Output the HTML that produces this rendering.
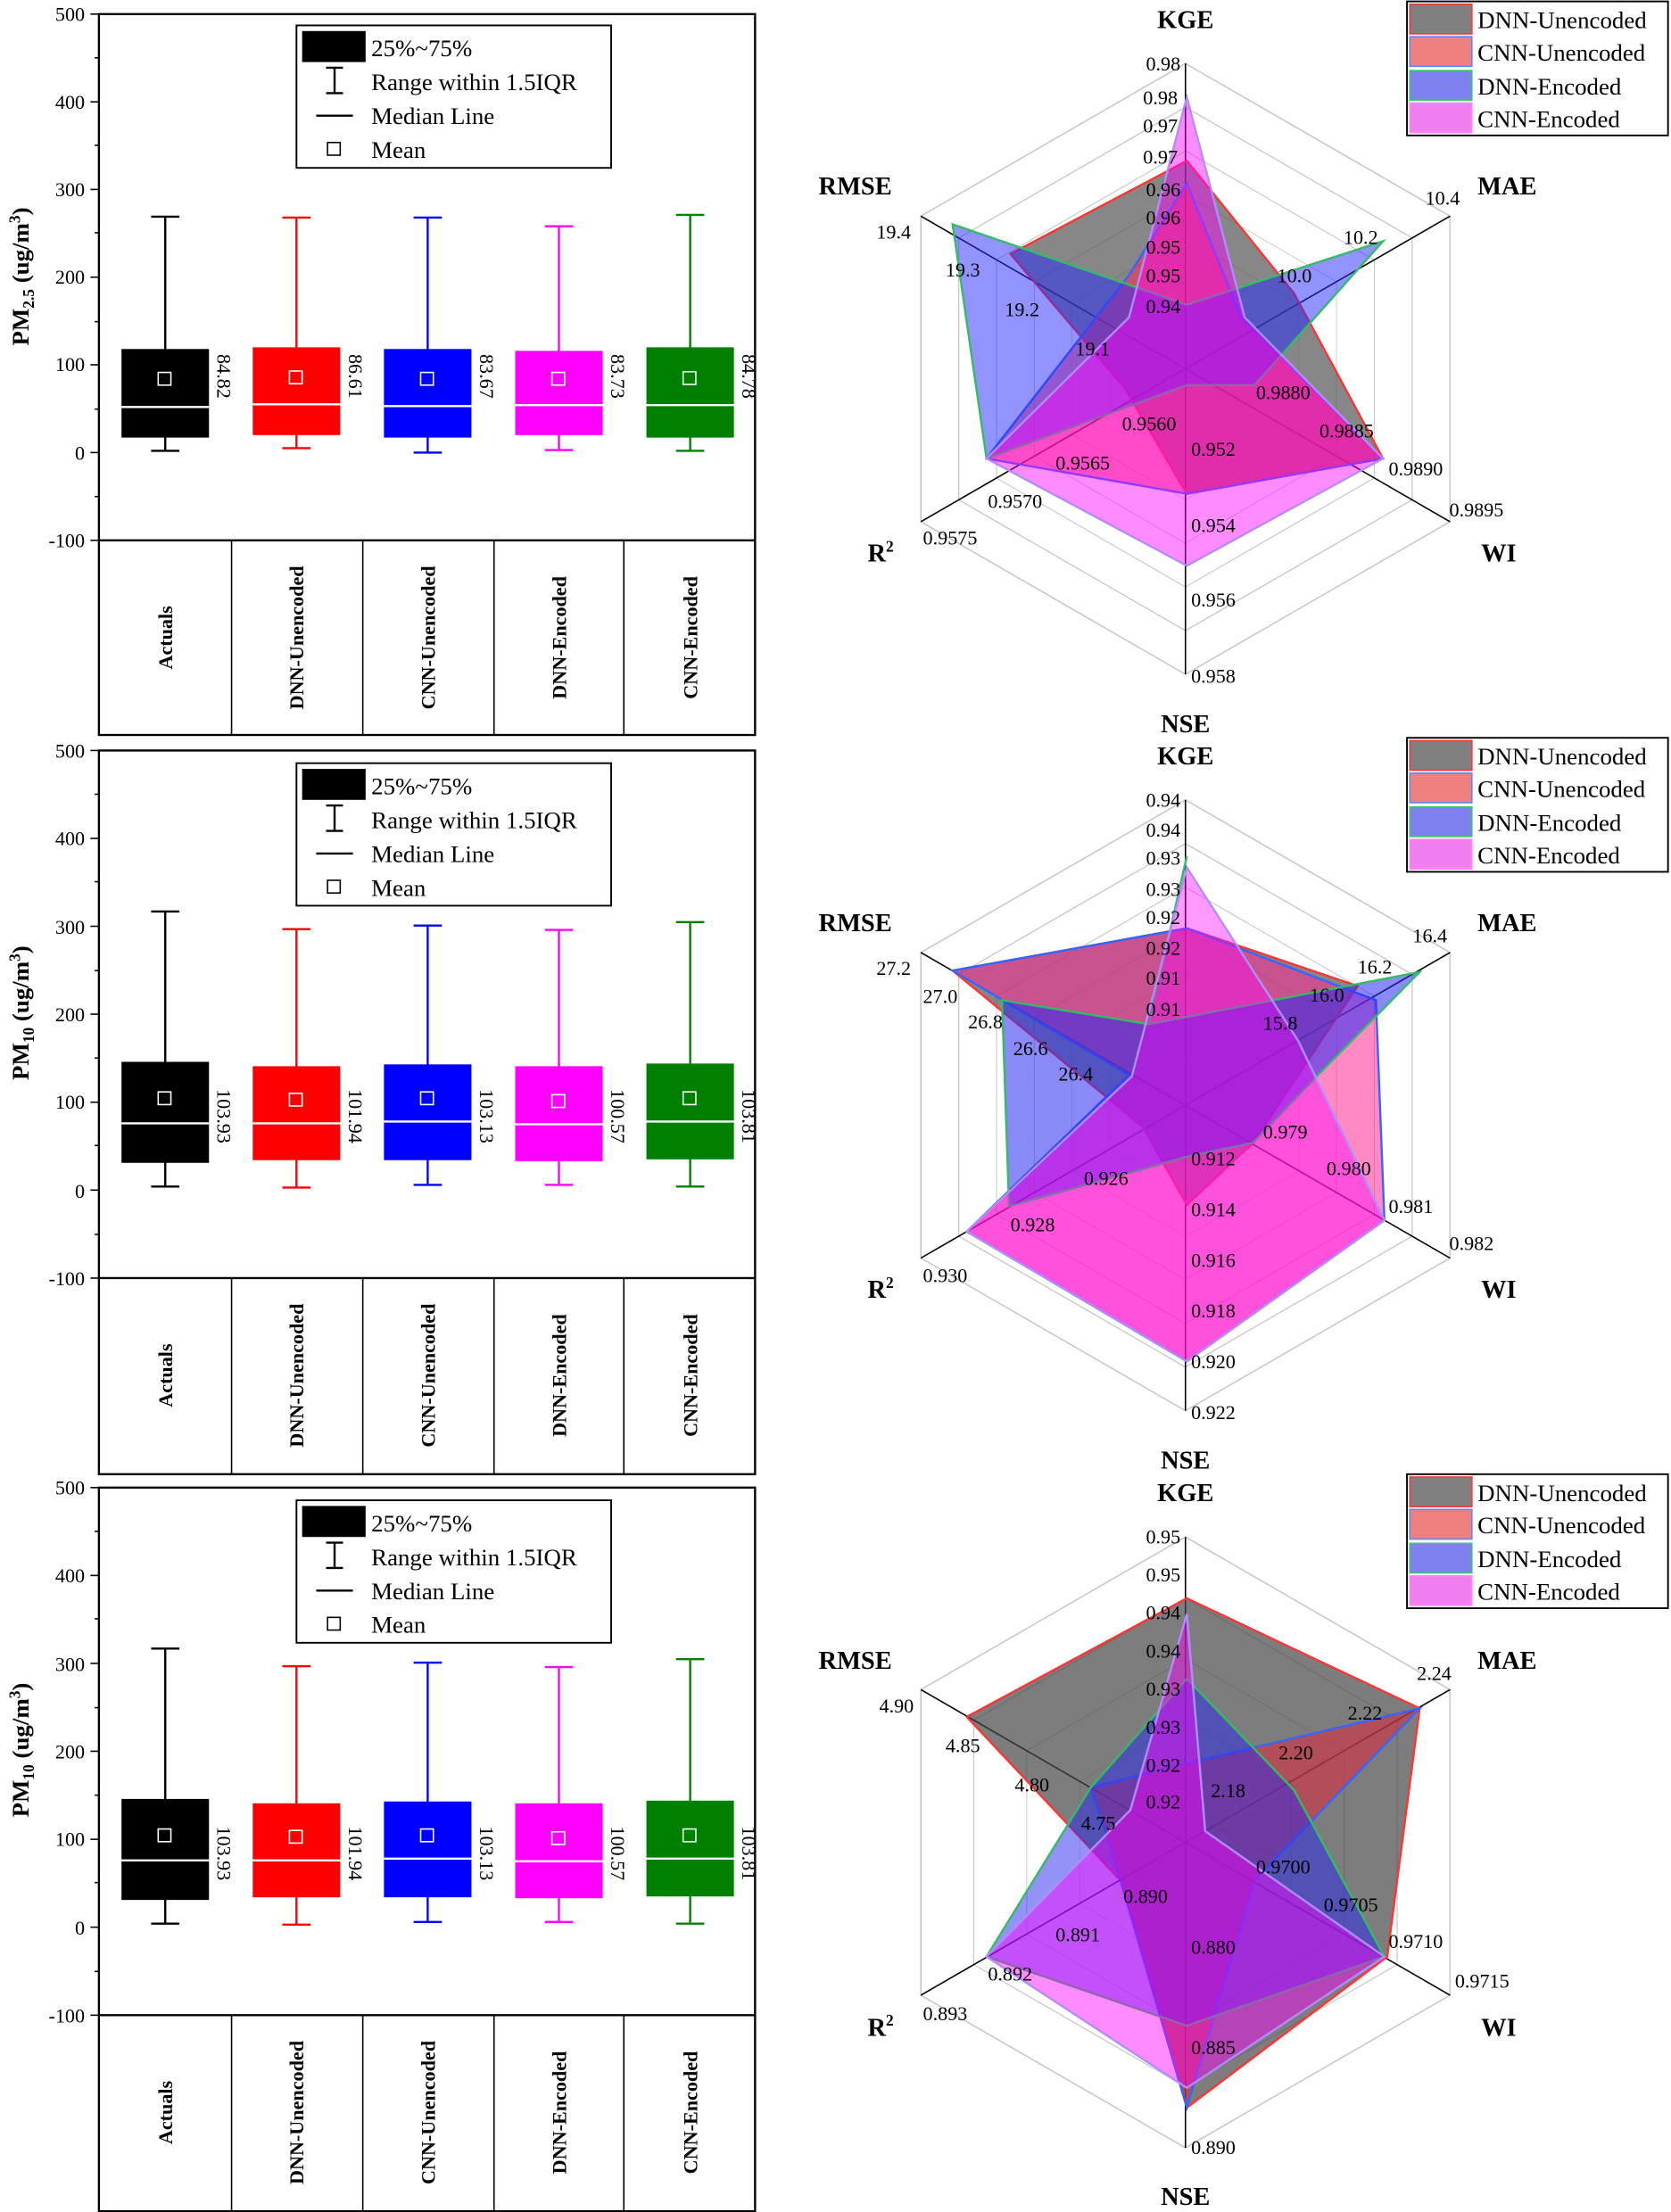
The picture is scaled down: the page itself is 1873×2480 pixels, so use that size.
<!DOCTYPE html>
<html><head><meta charset="utf-8"><style>
html,body{margin:0;padding:0;background:#fff}
svg{display:block}
text{font-family:"Liberation Serif","Times New Roman",serif}
.t{font-size:14px}
.b{font-weight:bold}
.g{fill:none;stroke:#c8c8c8;stroke-width:1;vector-effect:non-scaling-stroke}
</style></head><body>
<svg width="1873" height="2480" viewBox="0 0 1184 1568" xmlns="http://www.w3.org/2000/svg" font-family="Liberation Serif, Times New Roman, serif">
<defs>
<polygon id="hx" points="0,-216.5 187.5,-108.3 187.5,108.3 0,216.5 -187.5,108.3 -187.5,-108.3"/>
</defs>

<!-- ================= PANEL 1 ================= -->
<g>
<rect x="70" y="10" width="465" height="511" fill="none" stroke="#000" stroke-width="1.5"/>
<line x1="70" y1="383" x2="535" y2="383" stroke="#000" stroke-width="1.5"/>
<g stroke="#000" stroke-width="1"><line x1="164" y1="383" x2="164" y2="521"/><line x1="257" y1="383" x2="257" y2="521"/><line x1="350" y1="383" x2="350" y2="521"/><line x1="442" y1="383" x2="442" y2="521"/></g>
<g stroke="#000" stroke-width="1">
<line x1="64" y1="10" x2="70" y2="10"/><line x1="64" y1="72.2" x2="70" y2="72.2"/><line x1="64" y1="134.3" x2="70" y2="134.3"/><line x1="64" y1="196.5" x2="70" y2="196.5"/><line x1="64" y1="258.6" x2="70" y2="258.6"/><line x1="64" y1="320.8" x2="70" y2="320.8"/><line x1="64" y1="383" x2="70" y2="383"/>
<line x1="67" y1="41" x2="70" y2="41"/><line x1="67" y1="103" x2="70" y2="103"/><line x1="67" y1="165" x2="70" y2="165"/><line x1="67" y1="228" x2="70" y2="228"/><line x1="67" y1="290" x2="70" y2="290"/><line x1="67" y1="352" x2="70" y2="352"/>
</g>
<g class="t" text-anchor="end"><text x="60" y="15">500</text><text x="60" y="77">400</text><text x="60" y="139">300</text><text x="60" y="201">200</text><text x="60" y="263">100</text><text x="60" y="326">0</text><text x="60" y="388">-100</text></g>
<text transform="translate(20,196) rotate(-90)" text-anchor="middle" class="b" font-size="17">PM<tspan font-size="11" dy="4">2.5</tspan><tspan dy="-4"> (ug/m</tspan><tspan font-size="11" dy="-6">3</tspan><tspan dy="6">)</tspan></text>
<rect x="210" y="18" width="223" height="101" fill="#fff" stroke="#000" stroke-width="1.2"/>
<rect x="214" y="22" width="45" height="22" fill="#000"/>
<g stroke="#000" stroke-width="1.5"><line x1="237" y1="48" x2="237" y2="66"/><line x1="231" y1="48" x2="243" y2="48"/><line x1="231" y1="66" x2="243" y2="66"/><line x1="224" y1="82" x2="250" y2="82"/></g>
<rect x="232" y="101" width="9" height="9" fill="none" stroke="#000"/>
<g font-size="17"><text x="263" y="40">25%~75%</text><text x="263" y="64">Range within 1.5IQR</text><text x="263" y="88">Median Line</text><text x="263" y="112">Mean</text></g>
<g stroke-width="1.5">
<g stroke="#000"><line x1="117" y1="153.6" x2="117" y2="319.6"/><line x1="107" y1="153.6" x2="127" y2="153.6"/><line x1="107" y1="319.6" x2="127" y2="319.6"/></g>
<rect x="86" y="247.4" width="62" height="62.8" fill="#000"/>
<g stroke="#f00"><line x1="210" y1="154.2" x2="210" y2="317.7"/><line x1="200" y1="154.2" x2="220" y2="154.2"/><line x1="200" y1="317.7" x2="220" y2="317.7"/></g>
<rect x="179" y="246.2" width="62" height="62.2" fill="#f00"/>
<g stroke="#00f"><line x1="303" y1="154.2" x2="303" y2="320.8"/><line x1="293" y1="154.2" x2="313" y2="154.2"/><line x1="293" y1="320.8" x2="313" y2="320.8"/></g>
<rect x="272" y="247.4" width="62" height="62.8" fill="#00f"/>
<g stroke="#f0f"><line x1="396" y1="160.4" x2="396" y2="319"/><line x1="386" y1="160.4" x2="406" y2="160.4"/><line x1="386" y1="319" x2="406" y2="319"/></g>
<rect x="365" y="248.7" width="62" height="59.7" fill="#f0f"/>
<g stroke="#008000"><line x1="489" y1="152.3" x2="489" y2="319.6"/><line x1="479" y1="152.3" x2="499" y2="152.3"/><line x1="479" y1="319.6" x2="499" y2="319.6"/></g>
<rect x="458" y="246.2" width="62" height="64" fill="#008000"/>
<g stroke="#fff"><line x1="86" y1="288.5" x2="148" y2="288.5"/><line x1="179" y1="286.6" x2="241" y2="286.6"/><line x1="272" y1="287.9" x2="334" y2="287.9"/><line x1="365" y1="287.2" x2="427" y2="287.2"/><line x1="458" y1="287.2" x2="520" y2="287.2"/></g>
<g stroke="#fff" fill="none" stroke-width="1"><rect x="112" y="264" width="9" height="9"/><rect x="205" y="263" width="9" height="9"/><rect x="298" y="264" width="9" height="9"/><rect x="391" y="264" width="9" height="9"/><rect x="484" y="263.5" width="9" height="9"/></g>
</g>
<g class="t"><text transform="translate(154,251) rotate(90)">84.82</text><text transform="translate(247,251) rotate(90)">86.61</text><text transform="translate(340,251) rotate(90)">83.67</text><text transform="translate(433,251) rotate(90)">83.73</text><text transform="translate(526,251) rotate(90)">84.78</text></g>
<g class="b" font-size="14" text-anchor="middle">
<text transform="translate(122,452) rotate(-90)">Actuals</text><text transform="translate(215,452) rotate(-90)">DNN-Unencoded</text><text transform="translate(308,452) rotate(-90)">CNN-Unencoded</text><text transform="translate(401,452) rotate(-90)">DNN-Encoded</text><text transform="translate(494,452) rotate(-90)">CNN-Encoded</text></g>
</g>

<!-- ================= PANEL 2 ================= -->
<g>
<rect x="70" y="532" width="465" height="513" fill="none" stroke="#000" stroke-width="1.5"/>
<line x1="70" y1="906" x2="535" y2="906" stroke="#000" stroke-width="1.5"/>
<g stroke="#000" stroke-width="1"><line x1="164" y1="906" x2="164" y2="1045"/><line x1="257" y1="906" x2="257" y2="1045"/><line x1="350" y1="906" x2="350" y2="1045"/><line x1="442" y1="906" x2="442" y2="1045"/></g>
<g stroke="#000" stroke-width="1">
<line x1="64" y1="532" x2="70" y2="532"/><line x1="64" y1="594.3" x2="70" y2="594.3"/><line x1="64" y1="656.6" x2="70" y2="656.6"/><line x1="64" y1="718.9" x2="70" y2="718.9"/><line x1="64" y1="781.3" x2="70" y2="781.3"/><line x1="64" y1="843.6" x2="70" y2="843.6"/><line x1="64" y1="906" x2="70" y2="906"/>
<line x1="67" y1="563" x2="70" y2="563"/><line x1="67" y1="625" x2="70" y2="625"/><line x1="67" y1="688" x2="70" y2="688"/><line x1="67" y1="750" x2="70" y2="750"/><line x1="67" y1="812" x2="70" y2="812"/><line x1="67" y1="875" x2="70" y2="875"/>
</g>
<g class="t" text-anchor="end"><text x="60" y="537">500</text><text x="60" y="599">400</text><text x="60" y="662">300</text><text x="60" y="724">200</text><text x="60" y="786">100</text><text x="60" y="849">0</text><text x="60" y="911">-100</text></g>
<text transform="translate(20,718) rotate(-90)" text-anchor="middle" class="b" font-size="17">PM<tspan font-size="11" dy="4">10</tspan><tspan dy="-4"> (ug/m</tspan><tspan font-size="11" dy="-6">3</tspan><tspan dy="6">)</tspan></text>
<rect x="210" y="541" width="223" height="101" fill="#fff" stroke="#000" stroke-width="1.2"/>
<rect x="214" y="545" width="45" height="22" fill="#000"/>
<g stroke="#000" stroke-width="1.5"><line x1="237" y1="571" x2="237" y2="589"/><line x1="231" y1="571" x2="243" y2="571"/><line x1="231" y1="589" x2="243" y2="589"/><line x1="224" y1="605" x2="250" y2="605"/></g>
<rect x="232" y="624" width="9" height="9" fill="none" stroke="#000"/>
<g font-size="17"><text x="263" y="563">25%~75%</text><text x="263" y="587">Range within 1.5IQR</text><text x="263" y="611">Median Line</text><text x="263" y="635">Mean</text></g>
<g stroke-width="1.5">
<g stroke="#000"><line x1="117" y1="646.1" x2="117" y2="841.1"/><line x1="107" y1="646.1" x2="127" y2="646.1"/><line x1="107" y1="841.1" x2="127" y2="841.1"/></g>
<rect x="86" y="752.7" width="62" height="71.6" fill="#000"/>
<g stroke="#f00"><line x1="210" y1="658.6" x2="210" y2="841.8"/><line x1="200" y1="658.6" x2="220" y2="658.6"/><line x1="200" y1="841.8" x2="220" y2="841.8"/></g>
<rect x="179" y="755.8" width="62" height="66.6" fill="#f00"/>
<g stroke="#00f"><line x1="303" y1="656.1" x2="303" y2="839.9"/><line x1="293" y1="656.1" x2="313" y2="656.1"/><line x1="293" y1="839.9" x2="313" y2="839.9"/></g>
<rect x="272" y="754.5" width="62" height="67.9" fill="#00f"/>
<g stroke="#f0f"><line x1="396" y1="659.2" x2="396" y2="839.9"/><line x1="386" y1="659.2" x2="406" y2="659.2"/><line x1="386" y1="839.9" x2="406" y2="839.9"/></g>
<rect x="365" y="755.8" width="62" height="67.3" fill="#f0f"/>
<g stroke="#008000"><line x1="489" y1="653.6" x2="489" y2="841.1"/><line x1="479" y1="653.6" x2="499" y2="653.6"/><line x1="479" y1="841.1" x2="499" y2="841.1"/></g>
<rect x="458" y="753.9" width="62" height="67.9" fill="#008000"/>
<g stroke="#fff"><line x1="86" y1="796.3" x2="148" y2="796.3"/><line x1="179" y1="796.3" x2="241" y2="796.3"/><line x1="272" y1="795" x2="334" y2="795"/><line x1="365" y1="796.9" x2="427" y2="796.9"/><line x1="458" y1="795" x2="520" y2="795"/></g>
<g stroke="#fff" fill="none" stroke-width="1"><rect x="112" y="774" width="9" height="9"/><rect x="205" y="775" width="9" height="9"/><rect x="298" y="774" width="9" height="9"/><rect x="391" y="776" width="9" height="9"/><rect x="484" y="774" width="9" height="9"/></g>
</g>
<g class="t"><text transform="translate(154,772) rotate(90)">103.93</text><text transform="translate(247,772) rotate(90)">101.94</text><text transform="translate(340,772) rotate(90)">103.13</text><text transform="translate(433,772) rotate(90)">100.57</text><text transform="translate(526,772) rotate(90)">103.81</text></g>
<g class="b" font-size="14" text-anchor="middle">
<text transform="translate(122,975) rotate(-90)">Actuals</text><text transform="translate(215,975) rotate(-90)">DNN-Unencoded</text><text transform="translate(308,975) rotate(-90)">CNN-Unencoded</text><text transform="translate(401,975) rotate(-90)">DNN-Encoded</text><text transform="translate(494,975) rotate(-90)">CNN-Encoded</text></g>
</g>

<!-- ================= PANEL 3 ================= -->
<g transform="translate(0,522.5)">
<rect x="70" y="532" width="465" height="513" fill="none" stroke="#000" stroke-width="1.5"/>
<line x1="70" y1="906" x2="535" y2="906" stroke="#000" stroke-width="1.5"/>
<g stroke="#000" stroke-width="1"><line x1="164" y1="906" x2="164" y2="1045"/><line x1="257" y1="906" x2="257" y2="1045"/><line x1="350" y1="906" x2="350" y2="1045"/><line x1="442" y1="906" x2="442" y2="1045"/></g>
<g stroke="#000" stroke-width="1">
<line x1="64" y1="532" x2="70" y2="532"/><line x1="64" y1="594.3" x2="70" y2="594.3"/><line x1="64" y1="656.6" x2="70" y2="656.6"/><line x1="64" y1="718.9" x2="70" y2="718.9"/><line x1="64" y1="781.3" x2="70" y2="781.3"/><line x1="64" y1="843.6" x2="70" y2="843.6"/><line x1="64" y1="906" x2="70" y2="906"/>
<line x1="67" y1="563" x2="70" y2="563"/><line x1="67" y1="625" x2="70" y2="625"/><line x1="67" y1="688" x2="70" y2="688"/><line x1="67" y1="750" x2="70" y2="750"/><line x1="67" y1="812" x2="70" y2="812"/><line x1="67" y1="875" x2="70" y2="875"/>
</g>
<g class="t" text-anchor="end"><text x="60" y="537">500</text><text x="60" y="599">400</text><text x="60" y="662">300</text><text x="60" y="724">200</text><text x="60" y="786">100</text><text x="60" y="849">0</text><text x="60" y="911">-100</text></g>
<text transform="translate(20,718) rotate(-90)" text-anchor="middle" class="b" font-size="17">PM<tspan font-size="11" dy="4">10</tspan><tspan dy="-4"> (ug/m</tspan><tspan font-size="11" dy="-6">3</tspan><tspan dy="6">)</tspan></text>
<rect x="210" y="541" width="223" height="101" fill="#fff" stroke="#000" stroke-width="1.2"/>
<rect x="214" y="545" width="45" height="22" fill="#000"/>
<g stroke="#000" stroke-width="1.5"><line x1="237" y1="571" x2="237" y2="589"/><line x1="231" y1="571" x2="243" y2="571"/><line x1="231" y1="589" x2="243" y2="589"/><line x1="224" y1="605" x2="250" y2="605"/></g>
<rect x="232" y="624" width="9" height="9" fill="none" stroke="#000"/>
<g font-size="17"><text x="263" y="563">25%~75%</text><text x="263" y="587">Range within 1.5IQR</text><text x="263" y="611">Median Line</text><text x="263" y="635">Mean</text></g>
<g stroke-width="1.5">
<g stroke="#000"><line x1="117" y1="646.1" x2="117" y2="841.1"/><line x1="107" y1="646.1" x2="127" y2="646.1"/><line x1="107" y1="841.1" x2="127" y2="841.1"/></g>
<rect x="86" y="752.7" width="62" height="71.6" fill="#000"/>
<g stroke="#f00"><line x1="210" y1="658.6" x2="210" y2="841.8"/><line x1="200" y1="658.6" x2="220" y2="658.6"/><line x1="200" y1="841.8" x2="220" y2="841.8"/></g>
<rect x="179" y="755.8" width="62" height="66.6" fill="#f00"/>
<g stroke="#00f"><line x1="303" y1="656.1" x2="303" y2="839.9"/><line x1="293" y1="656.1" x2="313" y2="656.1"/><line x1="293" y1="839.9" x2="313" y2="839.9"/></g>
<rect x="272" y="754.5" width="62" height="67.9" fill="#00f"/>
<g stroke="#f0f"><line x1="396" y1="659.2" x2="396" y2="839.9"/><line x1="386" y1="659.2" x2="406" y2="659.2"/><line x1="386" y1="839.9" x2="406" y2="839.9"/></g>
<rect x="365" y="755.8" width="62" height="67.3" fill="#f0f"/>
<g stroke="#008000"><line x1="489" y1="653.6" x2="489" y2="841.1"/><line x1="479" y1="653.6" x2="499" y2="653.6"/><line x1="479" y1="841.1" x2="499" y2="841.1"/></g>
<rect x="458" y="753.9" width="62" height="67.9" fill="#008000"/>
<g stroke="#fff"><line x1="86" y1="796.3" x2="148" y2="796.3"/><line x1="179" y1="796.3" x2="241" y2="796.3"/><line x1="272" y1="795" x2="334" y2="795"/><line x1="365" y1="796.9" x2="427" y2="796.9"/><line x1="458" y1="795" x2="520" y2="795"/></g>
<g stroke="#fff" fill="none" stroke-width="1"><rect x="112" y="774" width="9" height="9"/><rect x="205" y="775" width="9" height="9"/><rect x="298" y="774" width="9" height="9"/><rect x="391" y="776" width="9" height="9"/><rect x="484" y="774" width="9" height="9"/></g>
</g>
<g class="t"><text transform="translate(154,772) rotate(90)">103.93</text><text transform="translate(247,772) rotate(90)">101.94</text><text transform="translate(340,772) rotate(90)">103.13</text><text transform="translate(433,772) rotate(90)">100.57</text><text transform="translate(526,772) rotate(90)">103.81</text></g>
<g class="b" font-size="14" text-anchor="middle">
<text transform="translate(122,975) rotate(-90)">Actuals</text><text transform="translate(215,975) rotate(-90)">DNN-Unencoded</text><text transform="translate(308,975) rotate(-90)">CNN-Unencoded</text><text transform="translate(401,975) rotate(-90)">DNN-Encoded</text><text transform="translate(494,975) rotate(-90)">CNN-Encoded</text></g>
</g>

<!-- ================= RADAR 1 ================= -->
<g>
<g transform="translate(840,261.5)">
<use href="#hx" class="g" transform="scale(1)"/><use href="#hx" class="g" transform="scale(0.857)"/><use href="#hx" class="g" transform="scale(0.714)"/><use href="#hx" class="g" transform="scale(0.571)"/><use href="#hx" class="g" transform="scale(0.429)"/><use href="#hx" class="g" transform="scale(0.286)"/><use href="#hx" class="g" transform="scale(0.143)"/>
<g stroke="#000" stroke-width="1"><line x1="0" y1="0" x2="0" y2="-216.5"/><line x1="0" y1="0" x2="187.5" y2="-108.3"/><line x1="0" y1="0" x2="187.5" y2="108.3"/><line x1="0" y1="0" x2="0" y2="216.5"/><line x1="0" y1="0" x2="-187.5" y2="108.3"/><line x1="0" y1="0" x2="-187.5" y2="-108.3"/></g>
</g>
<polygon points="841,114 917,208 980,325 841,350 797,275 716,180" fill="rgba(70,70,70,0.65)" stroke="#f33" stroke-width="1.5"/>
<polygon points="841,130 879,224 980,325 841,350 699,325 800,195" fill="rgba(255,40,80,0.55)" stroke="#36f" stroke-width="1.5"/>
<polygon points="841,216 980,171 889,273 841,273 699,325 675,159" fill="rgba(40,40,255,0.5)" stroke="#3b6" stroke-width="1.5"/>
<polygon points="841,69 882,225 980,325 841,401 699,325 800,225" fill="rgba(255,0,255,0.45)" stroke="#b08cff" stroke-width="1.5"/>
<g class="t"><text x="812" y="50">0.98</text><text x="810" y="74">0.98</text><text x="810" y="94">0.97</text><text x="810" y="116">0.97</text><text x="812" y="139">0.96</text><text x="812" y="159">0.96</text><text x="812" y="180">0.95</text><text x="812" y="200">0.95</text><text x="812" y="222">0.94</text>
<text x="621" y="169">19.4</text><text x="670" y="196">19.3</text><text x="712" y="224">19.2</text><text x="762" y="252">19.1</text>
<text x="1010" y="145">10.4</text><text x="952" y="173">10.2</text><text x="905" y="200">10.0</text>
<text x="1027" y="366">0.9895</text><text x="984" y="337">0.9890</text><text x="935" y="310">0.9885</text><text x="890" y="283">0.9880</text>
<text x="654" y="386">0.9575</text><text x="700" y="360">0.9570</text><text x="748" y="333">0.9565</text><text x="795" y="305">0.9560</text>
<text x="844" y="484">0.958</text><text x="844" y="430">0.956</text><text x="844" y="377">0.954</text><text x="844" y="323">0.952</text></g>
<g class="b" font-size="18" text-anchor="middle"><text x="840" y="20">KGE</text><text x="1068" y="138">MAE</text><text x="606" y="138">RMSE</text><text x="1062" y="398">WI</text><text x="624" y="398">R<tspan font-size="11" dy="-7">2</tspan></text><text x="840" y="519">NSE</text></g>
<rect x="997" y="1" width="185" height="95" fill="#fff" stroke="#000" stroke-width="1.2"/>
<rect x="999" y="3" width="44" height="21" fill="#808080" stroke="#f33"/><rect x="999" y="26" width="44" height="21" fill="#f08080" stroke="#58f"/><rect x="999" y="50" width="44" height="21" fill="#8080f0" stroke="#3c6"/><rect x="999" y="73" width="44" height="21" fill="#f080f0" stroke="#f8f"/>
<g font-size="17"><text x="1047" y="20">DNN-Unencoded</text><text x="1047" y="43">CNN-Unencoded</text><text x="1047" y="67">DNN-Encoded</text><text x="1047" y="90">CNN-Encoded</text></g>
</g>

<!-- ================= RADAR 2 ================= -->
<g>
<g transform="translate(840,783.5)">
<use href="#hx" class="g" transform="scale(1)"/><use href="#hx" class="g" transform="scale(0.857)"/><use href="#hx" class="g" transform="scale(0.714)"/><use href="#hx" class="g" transform="scale(0.571)"/><use href="#hx" class="g" transform="scale(0.429)"/><use href="#hx" class="g" transform="scale(0.286)"/><use href="#hx" class="g" transform="scale(0.143)"/>
<g stroke="#000" stroke-width="1"><line x1="0" y1="0" x2="0" y2="-216.5"/><line x1="0" y1="0" x2="187.5" y2="-108.3"/><line x1="0" y1="0" x2="187.5" y2="108.3"/><line x1="0" y1="0" x2="0" y2="216.5"/><line x1="0" y1="0" x2="-187.5" y2="108.3"/><line x1="0" y1="0" x2="-187.5" y2="-108.3"/></g>
</g>
<polygon points="841,658 962,699 888,810 841,854 810,799 675,688" fill="rgba(70,70,70,0.65)" stroke="#f33" stroke-width="1.5"/>
<polygon points="841,658 975,709 981,865 841,965 685,873 800,762 675,688" fill="rgba(255,40,150,0.55)" stroke="#36f" stroke-width="1.5"/>
<polygon points="841,607 814,726 1006,689 933,763 888,810 841,820 715,855 710,709 814,726" fill="rgba(40,40,240,0.55)" stroke="#3b6" stroke-width="1.5"/>
<polygon points="841,615 920,738 981,865 841,965 685,873 802,763" fill="rgba(255,0,255,0.4)" stroke="#b08cff" stroke-width="1.5"/>
<g class="t"><text x="812" y="572">0.94</text><text x="812" y="593">0.94</text><text x="812" y="613">0.93</text><text x="812" y="635">0.93</text><text x="812" y="655">0.92</text><text x="812" y="677">0.92</text><text x="812" y="698">0.91</text><text x="812" y="720">0.91</text>
<text x="621" y="691">27.2</text><text x="654" y="711">27.0</text><text x="686" y="729">26.8</text><text x="718" y="748">26.6</text><text x="750" y="766">26.4</text>
<text x="1001" y="668">16.4</text><text x="962" y="690">16.2</text><text x="928" y="710">16.0</text><text x="895" y="730">15.8</text>
<text x="1027" y="886">0.982</text><text x="984" y="860">0.981</text><text x="940" y="833">0.980</text><text x="895" y="807">0.979</text>
<text x="654" y="909">0.930</text><text x="716" y="873">0.928</text><text x="768" y="840">0.926</text>
<text x="844" y="1006">0.922</text><text x="844" y="970">0.920</text><text x="844" y="934">0.918</text><text x="844" y="898">0.916</text><text x="844" y="862">0.914</text><text x="844" y="826">0.912</text></g>
<g class="b" font-size="18" text-anchor="middle"><text x="840" y="542">KGE</text><text x="1068" y="660">MAE</text><text x="606" y="660">RMSE</text><text x="1062" y="920">WI</text><text x="624" y="920">R<tspan font-size="11" dy="-7">2</tspan></text><text x="840" y="1041">NSE</text></g>
<rect x="997" y="523" width="185" height="95" fill="#fff" stroke="#000" stroke-width="1.2"/>
<rect x="999" y="525" width="44" height="21" fill="#808080" stroke="#f33"/><rect x="999" y="548" width="44" height="21" fill="#f08080" stroke="#58f"/><rect x="999" y="572" width="44" height="21" fill="#8080f0" stroke="#3c6"/><rect x="999" y="595" width="44" height="21" fill="#f080f0" stroke="#f8f"/>
<g font-size="17"><text x="1047" y="542">DNN-Unencoded</text><text x="1047" y="565">CNN-Unencoded</text><text x="1047" y="589">DNN-Encoded</text><text x="1047" y="612">CNN-Encoded</text></g>
</g>

<!-- ================= RADAR 3 ================= -->
<g>
<g transform="translate(840,1306)">
<use href="#hx" class="g" transform="scale(1)"/><use href="#hx" class="g" transform="scale(0.8)"/><use href="#hx" class="g" transform="scale(0.6)"/><use href="#hx" class="g" transform="scale(0.4)"/><use href="#hx" class="g" transform="scale(0.2)"/>
<g stroke="#000" stroke-width="1"><line x1="0" y1="0" x2="0" y2="-216.5"/><line x1="0" y1="0" x2="187.5" y2="-108.3"/><line x1="0" y1="0" x2="187.5" y2="108.3"/><line x1="0" y1="0" x2="0" y2="216.5"/><line x1="0" y1="0" x2="-187.5" y2="108.3"/><line x1="0" y1="0" x2="-187.5" y2="-108.3"/></g>
</g>
<polygon points="841,1133 1006,1211 983,1387 841,1494 794,1333 685,1217" fill="rgba(70,70,70,0.7)" stroke="#f33" stroke-width="1.5"/>
<polygon points="841,1250 1006,1211 889,1333 841,1494 794,1333 773,1267" fill="rgba(220,40,60,0.55)" stroke="#36f" stroke-width="1.5"/>
<polygon points="841,1190 917,1269 981,1387 841,1436 699,1387 773,1267" fill="rgba(40,40,240,0.5)" stroke="#3b6" stroke-width="1.5"/>
<polygon points="841,1144 854,1298 981,1387 841,1480 699,1387 801,1283" fill="rgba(255,0,255,0.45)" stroke="#b08cff" stroke-width="1.5"/>
<g class="t"><text x="812" y="1094">0.95</text><text x="812" y="1121">0.95</text><text x="812" y="1148">0.94</text><text x="812" y="1175">0.94</text><text x="812" y="1202">0.93</text><text x="812" y="1229">0.93</text><text x="812" y="1256">0.92</text><text x="812" y="1282">0.92</text>
<text x="623" y="1214">4.90</text><text x="670" y="1242">4.85</text><text x="719" y="1270">4.80</text><text x="766" y="1297">4.75</text>
<text x="1004" y="1191">2.24</text><text x="955" y="1219">2.22</text><text x="906" y="1247">2.20</text><text x="858" y="1274">2.18</text>
<text x="1031" y="1409">0.9715</text><text x="984" y="1381">0.9710</text><text x="938" y="1355">0.9705</text><text x="890" y="1328">0.9700</text>
<text x="654" y="1432">0.893</text><text x="700" y="1404">0.892</text><text x="748" y="1376">0.891</text><text x="796" y="1349">0.890</text>
<text x="844" y="1527">0.890</text><text x="844" y="1456">0.885</text><text x="844" y="1385">0.880</text></g>
<g class="b" font-size="18" text-anchor="middle"><text x="840" y="1064">KGE</text><text x="1068" y="1183">MAE</text><text x="606" y="1183">RMSE</text><text x="1062" y="1443">WI</text><text x="624" y="1443">R<tspan font-size="11" dy="-7">2</tspan></text><text x="840" y="1563">NSE</text></g>
<rect x="997" y="1045" width="185" height="95" fill="#fff" stroke="#000" stroke-width="1.2"/>
<rect x="999" y="1047" width="44" height="21" fill="#808080" stroke="#f33"/><rect x="999" y="1070" width="44" height="21" fill="#f08080" stroke="#58f"/><rect x="999" y="1094" width="44" height="21" fill="#8080f0" stroke="#3c6"/><rect x="999" y="1117" width="44" height="21" fill="#f080f0" stroke="#f8f"/>
<g font-size="17"><text x="1047" y="1064">DNN-Unencoded</text><text x="1047" y="1087">CNN-Unencoded</text><text x="1047" y="1111">DNN-Encoded</text><text x="1047" y="1134">CNN-Encoded</text></g>
</g>
</svg>
</body></html>
